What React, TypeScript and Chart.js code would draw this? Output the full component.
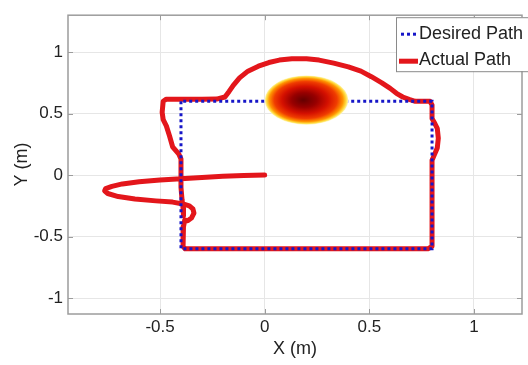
import React, { useEffect, useRef } from 'react';
import { Chart, registerables } from 'chart.js';

Chart.register(...registerables);

// ---- data ----
const seriesLabels = ['Desired Path', 'Actual Path'];

const desiredX = [-0.4, -0.4, 0.8, 0.8, -0.4];
const desiredY = [0.6, -0.6, -0.6, 0.6, 0.6];

const actualX = [
  0, -0.1, -0.2, -0.3, -0.4, -0.5, -0.6, -0.68, -0.73, -0.76, -0.765, -0.75, -0.7, -0.62, -0.52, -0.44, -0.39,
  -0.36, -0.343, -0.338, -0.35, -0.368, -0.382, -0.388, -0.39, -0.39, -0.38,
  -0.2, 0, 0.2, 0.4, 0.6, 0.78, 0.8,
  0.8, 0.8, 0.8, 0.81, 0.825, 0.83, 0.825, 0.81, 0.8, 0.8, 0.79,
  0.72, 0.69, 0.66, 0.63, 0.6, 0.56, 0.51, 0.46, 0.4, 0.33, 0.26, 0.2, 0.13, 0.07, 0.02,
  -0.03, -0.08, -0.12, -0.15, -0.17, -0.19, -0.23, -0.3, -0.4, -0.47, -0.485,
  -0.49, -0.485, -0.47, -0.455, -0.44, -0.41, -0.4, -0.4, -0.4, -0.395, -0.39, -0.388,
];
const actualY = [
  0, -0.003, -0.01, -0.02, -0.03, -0.04, -0.055, -0.072, -0.092, -0.11, -0.128, -0.15, -0.175, -0.195, -0.21, -0.22, -0.235,
  -0.25, -0.275, -0.31, -0.35, -0.372, -0.365, -0.42, -0.5, -0.58, -0.6,
  -0.6, -0.6, -0.6, -0.6, -0.6, -0.6, -0.58,
  -0.3, 0, 0.12, 0.16, 0.22, 0.3, 0.38, 0.43, 0.46, 0.57, 0.6,
  0.6, 0.615, 0.635, 0.665, 0.705, 0.75, 0.8, 0.845, 0.88, 0.91, 0.935, 0.945, 0.945, 0.935, 0.915,
  0.885, 0.845, 0.79, 0.73, 0.68, 0.635, 0.618, 0.617, 0.617, 0.617, 0.6,
  0.51, 0.45, 0.4, 0.32, 0.23, 0.17, 0.13, 0, -0.1, -0.2, -0.27, -0.33,
];

const obstacleCenter = [0.2, 0.61];
const obstacleRadius = 0.2;

const xTicks = [-0.5, 0, 0.5, 1];
const yTicks = [-1, -0.5, 0, 0.5, 1];
const xRange = [-0.94, 1.23];
const yRange = [-1.13, 1.3];

// ---- styles ----
const FONT = "'Liberation Sans', Arial, Helvetica, sans-serif";
const TEXT = '#222222';
const FRAME = '#9c9c9c';
const BLUE = '#1616c8';
const RED = '#e3161b';

const obstaclePlugin = {
  id: 'obstacle',
  afterDatasetsDraw(chart: any) {
    const { ctx, scales } = chart;
    const cx = scales.x.getPixelForValue(obstacleCenter[0]);
    const cy = scales.y.getPixelForValue(obstacleCenter[1]);
    const rx = Math.abs(scales.x.getPixelForValue(obstacleCenter[0] + obstacleRadius) - cx);
    const ry = Math.abs(scales.y.getPixelForValue(obstacleCenter[1] + obstacleRadius) - cy);
    ctx.save();
    ctx.translate(cx, cy);
    ctx.scale(rx, ry);
    const g = ctx.createRadialGradient(-0.08, 0, 0, 0, 0, 1);
    g.addColorStop(0, '#640000');
    g.addColorStop(0.3, '#980000');
    g.addColorStop(0.55, '#d41000');
    g.addColorStop(0.75, '#f03c00');
    g.addColorStop(0.88, '#ff9400');
    g.addColorStop(0.95, '#ffdc40');
    g.addColorStop(1, '#fff6c0');
    ctx.beginPath();
    ctx.arc(0, 0, 1, 0, Math.PI * 2);
    ctx.fillStyle = g;
    ctx.fill();
    ctx.restore();
  },
};

const framePlugin = {
  id: 'frame',
  afterDraw(chart: any) {
    const { ctx, chartArea: a, scales } = chart;
    ctx.save();
    ctx.strokeStyle = FRAME;
    ctx.lineWidth = 1;
    // inward tick marks
    ctx.beginPath();
    xTicks.forEach((v) => {
      const px = Math.round(scales.x.getPixelForValue(v)) + 0.5;
      ctx.moveTo(px, a.bottom);
      ctx.lineTo(px, a.bottom - 5);
      ctx.moveTo(px, a.top);
      ctx.lineTo(px, a.top + 5);
    });
    yTicks.forEach((v) => {
      const py = Math.round(scales.y.getPixelForValue(v)) + 0.5;
      ctx.moveTo(a.left, py);
      ctx.lineTo(a.left + 5, py);
      ctx.moveTo(a.right, py);
      ctx.lineTo(a.right - 5, py);
    });
    ctx.stroke();
    ctx.lineWidth = 1.5;
    ctx.strokeRect(a.left, a.top, a.right - a.left, a.bottom - a.top);

    // legend
    const ds = chart.data.datasets;
    const lx = a.right - 126;
    const ly = a.top + 2;
    ctx.fillStyle = '#ffffff';
    ctx.fillRect(lx, ly, 150, 54);
    ctx.strokeStyle = '#8a8a8a';
    ctx.lineWidth = 1;
    ctx.strokeRect(lx + 0.5, ly + 0.5, 150, 54);

    // item 1: dotted blue
    ctx.beginPath();
    ctx.strokeStyle = ds[0].borderColor;
    ctx.lineWidth = ds[0].borderWidth;
    ctx.setLineDash(ds[0].borderDash);
    ctx.lineCap = 'butt';
    ctx.moveTo(lx + 5, ly + 17);
    ctx.lineTo(lx + 21, ly + 17);
    ctx.stroke();
    ctx.setLineDash([]);
    // item 2: solid red
    ctx.beginPath();
    ctx.strokeStyle = ds[1].borderColor;
    ctx.lineWidth = ds[1].borderWidth;
    ctx.moveTo(lx + 3, ly + 44);
    ctx.lineTo(lx + 22, ly + 44);
    ctx.stroke();

    ctx.fillStyle = TEXT;
    ctx.font = `18px ${FONT}`;
    ctx.textAlign = 'left';
    ctx.textBaseline = 'middle';
    ctx.fillText(ds[0].label, lx + 23, ly + 17);
    ctx.fillText(ds[1].label, lx + 23, ly + 43);
    ctx.restore();
  },
};

export default function App() {
  const ref = useRef<HTMLCanvasElement | null>(null);

  useEffect(() => {
    document.body.style.margin = '0';
    const canvas = ref.current;
    if (!canvas) return;
    const tickFont = { family: FONT, size: 17 };
    const titleFont = { family: FONT, size: 18 };
    const chart = new Chart(canvas, {
      type: 'scatter',
      data: {
        datasets: [
          {
            label: seriesLabels[0],
            data: desiredX.map((x, i) => ({ x, y: desiredY[i] })),
            showLine: true,
            borderColor: BLUE,
            backgroundColor: BLUE,
            borderWidth: 3,
            borderDash: [3, 3],
            borderCapStyle: 'butt',
            borderJoinStyle: 'miter',
            pointRadius: 0,
            tension: 0,
          },
          {
            label: seriesLabels[1],
            data: actualX.map((x, i) => ({ x, y: actualY[i] })),
            showLine: true,
            borderColor: RED,
            backgroundColor: RED,
            borderWidth: 5,
            borderCapStyle: 'round',
            borderJoinStyle: 'round',
            pointRadius: 0,
            tension: 0,
          },
        ],
      } as any,
      options: {
        animation: false,
        responsive: false,
        events: [],
        layout: { padding: { top: 12, right: 6, left: 0, bottom: 0 } },
        plugins: { legend: { display: false }, tooltip: { enabled: false } },
        scales: {
          x: {
            type: 'linear',
            min: xRange[0],
            max: xRange[1],
            afterBuildTicks: (s: any) => {
              s.ticks = xTicks.map((v) => ({ value: v }));
            },
            afterFit: (s: any) => {
              s.height = 51;
            },
            grid: { color: '#e6e6e6', drawTicks: false },
            border: { display: false },
            ticks: { padding: 3, font: tickFont, color: TEXT, callback: (v: any) => String(v) },
            title: { display: true, text: 'X (m)', font: titleFont, color: TEXT, padding: { top: 0, bottom: 5 } },
          },
          y: {
            type: 'linear',
            min: yRange[0],
            max: yRange[1],
            afterBuildTicks: (s: any) => {
              s.ticks = yTicks.map((v) => ({ value: v }));
            },
            afterFit: (s: any) => {
              s.width = 68;
            },
            grid: { color: '#e6e6e6', drawTicks: false },
            border: { display: false },
            ticks: { padding: 5, font: tickFont, color: TEXT, callback: (v: any) => String(v) },
            title: { display: true, text: 'Y (m)', font: titleFont, color: TEXT, padding: { top: 11, bottom: 0 } },
          },
        },
      } as any,
      plugins: [obstaclePlugin, framePlugin],
    });
    return () => chart.destroy();
  }, []);

  return (
    <div style={{ width: 528, height: 365, background: '#ffffff' }}>
      <canvas ref={ref} width={528} height={365} style={{ display: 'block' }} />
    </div>
  );
}
